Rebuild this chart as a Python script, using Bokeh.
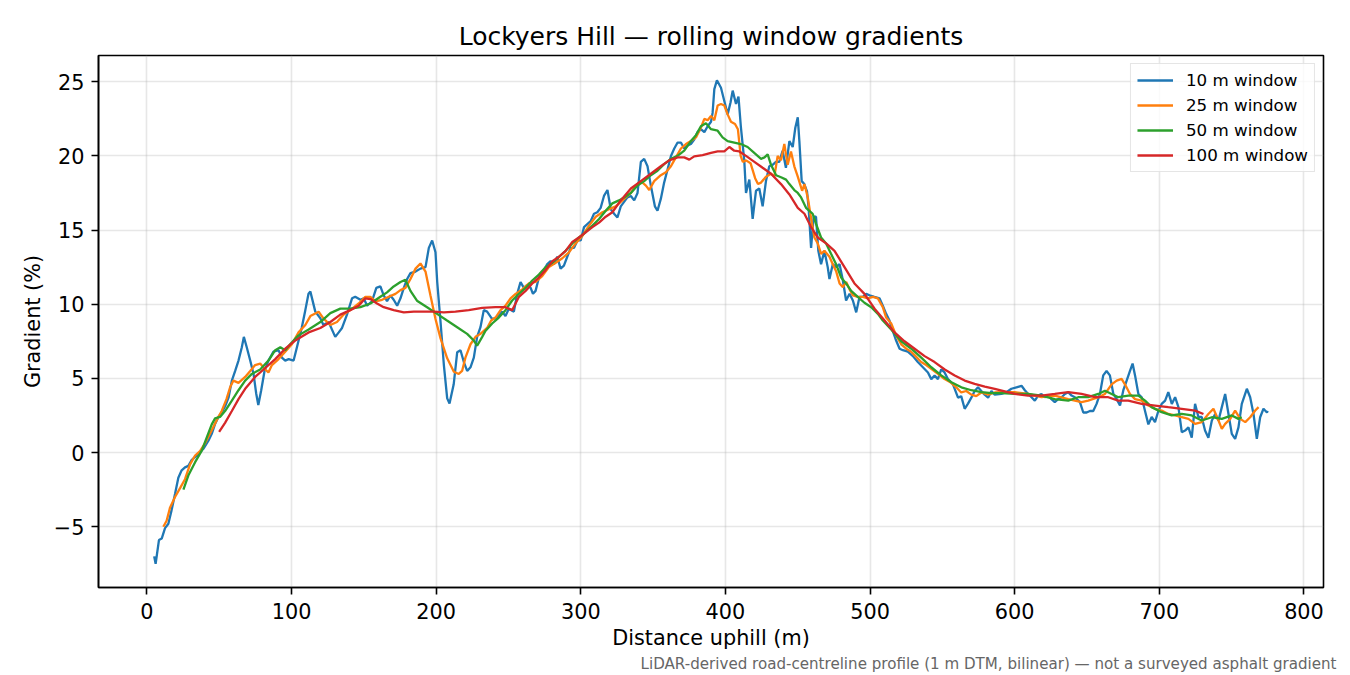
from bokeh.plotting import figure
from bokeh.models import Range1d, FixedTicker, CustomJSTickFormatter, Title
from bokeh.embed import file_html
from bokeh.resources import INLINE

FONT = "DejaVu Sans"

# 10 m window
dist_10 = [5, 6, 8.3, 10.2, 12.5, 14.8, 17, 19.4, 21.7, 24, 26.3, 28.6, 31, 35.6, 39, 42.5, 44.8, 47,
           49.4, 51.7, 54, 56.4, 58.7, 61, 63.3, 65.6, 67, 69, 71.4, 73.7, 75.5, 77, 79, 81.3, 84,
           87.5, 91, 93.3, 95.6, 98, 101.4, 103.7, 107, 109.5, 111.7, 113, 116.4, 119.9, 122, 125.6,
           130.2, 132.6, 134.9, 138.3, 141.8, 144, 147.6, 149.9, 152.2, 155.6, 158.6, 161.4, 163.7,
           166, 168.3, 170.6, 173, 175.3, 177.6, 179.9, 182.2, 185.7, 189.1, 192.6, 194.9, 197.2,
           199.5, 200.7, 203, 205.3, 207.6, 209.2, 212.1, 214.5, 216.8, 219.1, 221.4, 223.7, 226,
           228.3, 230.6, 232.9, 235.2, 238.7, 242.2, 245.6, 247.9, 250.2, 253.7, 256, 258.3, 260.6,
           263, 265.3, 266.9, 268.7, 271, 274.5, 276.8, 279.1, 281.4, 283.7, 286, 288.3, 290.6, 293,
           295.3, 297.6, 299.9, 302.2, 304.5, 306.8, 309.1, 311.4, 313.7, 316, 318.4, 320.7, 323,
           325.3, 327.6, 329.9, 332.2, 334.6, 336.9, 339.2, 341.5, 343.8, 346.1, 348.4, 351.2, 353,
           355.3, 357.6, 360, 362.3, 364.6, 366.9, 369.2, 371.5, 373.8, 376.1, 378.4, 380.7, 383,
           385.4, 387.7, 390, 391.1, 392.3, 394.1, 396.9, 399.2, 401.5, 403.5, 405, 407.3, 409,
           410.7, 413, 414.2, 416.5, 418.8, 421.1, 423.4, 425.7, 428, 430.3, 432.6, 434.9, 437.2,
           439.5, 441.8, 444.2, 446.5, 448.3, 450, 451.1, 452.7, 454.5, 456.4, 457.5, 459.2, 461,
           462.6, 464.2, 466.1, 468.4, 470.7, 471.9, 474.2, 476.6, 478.9, 481.2, 483.4, 485.8, 488.1,
           490.4, 492.7, 495, 497.3, 499.6, 503, 506.5, 508.8, 511.1, 513.4, 515.7, 518, 520.4,
           522.7, 526.1, 529.6, 533, 536.5, 540, 542.3, 544.6, 546.9, 549.2, 551.5, 553.8, 557.3,
           560.8, 563, 565.4, 567.7, 570, 572.3, 574.6, 576.9, 579.2, 581.6, 583.9, 586.2, 590.8,
           594.3, 597.7, 601.2, 604.7, 607, 609.3, 611.6, 613.9, 616.2, 618.5, 620.8, 623.1, 625.4,
           627.7, 630, 632.4, 634.7, 637, 639.3, 641.6, 645.1, 647.4, 649.7, 652, 654.3, 656.6,
           658.9, 661.2, 663.5, 665.8, 668.2, 670.5, 672.8, 675.1, 677.4, 679.7, 681.5, 683.2, 685.5,
           687.8, 690.1, 692.4, 694.7, 697, 699.3, 701.6, 704, 706.2, 708.6, 710.9, 713.2, 715.5,
           717.8, 720.1, 722.4, 724.7, 727, 729.3, 731.6, 733.9, 736.3, 738.6, 740.9, 743.2, 745.5,
           747.8, 750.1, 752.4, 754.7, 757, 760.5, 762.8, 765.1, 767.4, 769.7, 772, 774.4, 775]
grad_10 = [-7.0, -7.5, -5.9, -5.8, -5.1, -4.8, -3.9, -2.8, -1.7, -1.2, -1.0, -0.9, -0.5, -0.1, 0.25,
           0.8, 1.26, 1.9, 2.4, 2.7, 3.1, 3.7, 4.85, 5.5, 6.2, 7.1, 7.8, 7.1, 6.2, 5.3, 4.0, 3.2, 4.2,
           5.5, 6.2, 6.8, 6.9, 6.4, 6.2, 6.3, 6.2, 7.1, 8.4, 9.6, 10.7, 10.85, 9.5, 9.05, 8.6, 8.8,
           7.8, 8.1, 8.4, 9.3, 10.4, 10.5, 10.3, 10.4, 9.9, 10.2, 11.1, 11.2, 10.6, 10.2, 10.6, 10.3,
           9.9, 10.4, 11.1, 11.7, 12.1, 12.2, 12.4, 12.5, 13.8, 14.3, 13.5, 11.5, 8.8, 5.9, 3.65,
           3.3, 4.6, 6.76, 6.9, 6.1, 5.5, 5.75, 6.4, 7.8, 8.45, 9.6, 9.5, 9.0, 9.1, 9.5, 9.2, 9.7,
           9.5, 10.7, 11.5, 11.1, 11.3, 11.1, 10.7, 10.9, 11.8, 12.3, 12.7, 12.9, 12.7, 13.2, 12.4,
           12.6, 13.2, 13.8, 13.8, 14.3, 14.3, 15.2, 15.4, 15.6, 16.1, 16.2, 16.5, 17.3, 17.7, 16.4,
           16.1, 15.85, 16.6, 16.9, 17.2, 17.3, 17.0, 17.5, 19.6, 19.8, 19.3, 18.0, 16.6, 16.3, 17.1,
           18.2, 19.1, 20.0, 20.5, 20.9, 20.9, 20.5, 20.7, 20.8, 21.1, 21.6, 21.8, 21.6, 22.0, 22.3,
           22.9, 24.5, 25.1, 24.6, 23.7, 22.8, 23.6, 24.4, 23.5, 24.0, 21.9, 19.7, 17.5, 18.4, 15.75,
           17.65, 17.8, 16.6, 18.3, 19.3, 19.4, 19.6, 19.6, 20.35, 19.2, 21.0, 20.6, 21.9, 22.6,
           21.0, 18.3, 18.1, 17.6, 16.5, 13.8, 15.9, 15.9, 13.6, 12.7, 13.6, 12.5, 11.7, 12.7, 12.5,
           12.7, 11.6, 10.25, 10.7, 10.25, 9.45, 10.5, 10.5, 10.7, 10.6, 10.5, 10.4, 9.9, 9.35, 8.9,
           8.2, 7.55, 7.0, 6.9, 6.8, 6.5, 6.1, 5.75, 5.4, 4.95, 5.2, 4.95, 5.6, 5.4, 4.95, 4.6, 3.7,
           3.8, 2.95, 3.3, 3.7, 4.15, 4.4, 4.15, 3.9, 3.7, 4.15, 3.9, 3.95, 4.07, 4.3, 4.4, 4.5, 4.2,
           3.95, 3.73, 3.5, 3.84, 3.95, 3.73, 3.84, 3.6, 3.4, 3.6, 3.73, 3.95, 4.07, 3.84, 3.73, 3.4,
           2.7, 2.7, 2.8, 2.8, 3.28, 3.95, 5.2, 5.5, 5.2, 3.95, 3.6, 3.17, 4.2, 4.85, 5.5, 6.0, 5.2,
           3.95, 3.73, 2.8, 1.9, 2.4, 2.05, 2.8, 3.28, 3.5, 4.07, 3.28, 3.73, 3.06, 1.37, 1.48, 1.7,
           1.0, 3.28, 2.4, 2.4, 1.48, 1.0, 2.16, 2.6, 2.16, 3.06, 3.95, 2.6, 1.26, 0.92, 1.7, 3.28,
           4.3, 3.73, 2.6, 0.92, 2.38, 2.95, 2.7, 2.8]

# 25 m window
dist_25 = [11.3, 13.6, 16, 19.4, 22.9, 26.3, 29.8, 33.3, 36.7, 40, 44.8, 48.3, 51.7, 55, 57.5, 59.8,
           63.3, 67.9, 71.4, 74.8, 78.3, 81.8, 84, 86.4, 91, 95.6, 100.2, 104.8, 109.5, 113, 118.7,
           122, 126.8, 131.4, 136, 140.6, 146.4, 151, 154.5, 158, 162.6, 167.2, 171.8, 175.3, 178.7,
           182.2, 185.7, 189.1, 192.6, 196, 199.5, 203, 207.6, 212.2, 215.6, 217.9, 220.2, 223.7,
           227.2, 230.6, 235.2, 238, 241, 244.5, 247.9, 251.4, 254.9, 259.5, 264.1, 268.7, 273.3,
           277.9, 282.6, 287.2, 291.8, 296.4, 301, 305.7, 310.3, 314.9, 319.5, 324.1, 327.6, 329.9,
           334.6, 338, 341.5, 345, 347.3, 350.7, 355.3, 358.8, 362.3, 365.7, 369.2, 372.7, 376.1,
           379.6, 383, 385.4, 387.7, 390, 392.3, 394.6, 396.9, 399.2, 401.5, 403.8, 406.6, 408.6,
           410.5, 412, 414.2, 417.4, 420.5, 422.5, 424.6, 428, 431.5, 433.8, 436.1, 438.4, 440.7,
           443, 445.3, 447.6, 450, 453, 454.6, 456.9, 459.2, 461.5, 463.8, 466.1, 468.4, 471.9,
           474.2, 476.6, 478.9, 481.2, 483.5, 485.8, 488.1, 491.5, 495, 498.5, 502, 505.3, 508.8,
           511.1, 514.6, 518, 521.5, 525, 528.4, 531.9, 535.3, 538.8, 542.3, 546.9, 551.5, 556.1,
           559.6, 563, 566.5, 570, 573.4, 576.9, 581.6, 586.2, 590.8, 600, 609.3, 618.5, 627.7, 637,
           646.2, 650.8, 657.8, 662.4, 667, 670.5, 673.9, 676.2, 679.7, 683.2, 687.8, 692.4, 697,
           701.6, 706.2, 710.9, 715.5, 720.1, 724.7, 729.3, 733.9, 737.4, 740.9, 743.2, 745.5, 749,
           752.4, 755.9, 759.4, 762.8, 766.3, 768.6]
grad_25 = [-5.0, -4.6, -3.7, -3.0, -2.4, -1.8, -0.8, -0.2, 0.1, 0.6, 1.5, 2.2, 2.8, 3.6, 4.4, 4.85,
           4.7, 5.1, 5.5, 5.9, 6.0, 5.6, 5.4, 5.9, 6.3, 6.8, 7.3, 8.1, 8.6, 9.2, 9.5, 9.05, 8.6, 8.8,
           9.3, 9.6, 10.05, 10.5, 10.5, 10.2, 10.3, 10.5, 10.7, 10.95, 11.1, 11.7, 12.4, 12.75, 12.2,
           10.6, 9.0, 7.7, 6.35, 5.45, 5.3, 5.5, 6.4, 7.3, 7.8, 8.0, 8.4, 8.9, 9.1, 9.6, 9.9, 10.4,
           10.7, 11.0, 11.4, 11.5, 11.9, 12.5, 12.8, 13.1, 13.5, 14.1, 14.6, 15.3, 15.9, 16.2, 16.4,
           16.6, 16.9, 17.1, 17.5, 18.0, 18.3, 18.0, 17.7, 18.3, 18.7, 18.9, 19.3, 19.9, 20.5, 20.8,
           21.0, 21.25, 21.9, 22.5, 22.4, 22.7, 22.4, 23.4, 23.5, 23.4, 22.8, 22.3, 22.15, 21.8, 20.0,
           19.6, 19.7, 19.5, 18.5, 18.1, 18.2, 18.6, 18.8, 18.6, 20.0, 19.7, 20.8, 19.4, 20.3, 19.3,
           18.6, 17.65, 18.1, 17.2, 15.8, 14.5, 14.1, 13.4, 13.6, 13.2, 12.7, 12.2, 11.4, 11.15,
           11.5, 11.0, 10.6, 10.5, 10.5, 10.4, 10.5, 10.4, 9.8, 9.1, 8.7, 7.9, 7.3, 7.0, 6.8, 6.45,
           6.1, 5.9, 5.65, 5.3, 4.95, 4.7, 4.4, 4.05, 4.15, 3.9, 3.8, 4.05, 3.9, 4.05, 4.07, 4.07,
           3.95, 3.73, 3.84, 3.6, 3.4, 3.5, 3.73, 3.95, 4.6, 4.85, 4.97, 4.6, 3.95, 3.6, 3.5, 3.17,
           2.95, 2.83, 2.6, 2.5, 2.38, 2.27, 1.93, 2.05, 2.6, 2.95, 2.16, 1.6, 1.93, 2.27, 2.83,
           2.27, 2.05, 2.38, 2.83, 3.06]

# 50 m window
dist_50 = [25.2, 28.6, 33.3, 37.9, 41.3, 44.8, 47.1, 50.5, 54, 58.7, 63.3, 67.9, 72.5, 78.3, 84,
           88.7, 92.2, 95.6, 99, 104.8, 111.8, 119.9, 126.8, 133.7, 140.6, 147.6, 154.5, 161.4, 166,
           170.6, 175.3, 178.7, 182.2, 186.7, 193.7, 200.6, 207.5, 214.5, 221.4, 226, 228.3, 231.8,
           234, 238.7, 243.3, 247.9, 252.5, 257.2, 261.8, 266.4, 271, 275.6, 280.3, 284.9, 289.5,
           294.1, 298.7, 303.3, 308, 312.6, 317.2, 321.8, 326.4, 329.9, 334.6, 339.2, 343.8, 348.4,
           353, 357.6, 362.3, 366.9, 371.5, 376.1, 379.6, 383, 386.5, 390, 394.6, 398, 401.5, 406.1,
           410.7, 415.3, 419.9, 424.6, 427, 429.2, 431.5, 435, 438.4, 441.9, 444.2, 447.6, 450,
           452.3, 455.7, 458, 460.3, 462.7, 466.1, 469.6, 473, 476.5, 480, 483.4, 486.9, 491.5,
           496.1, 500.8, 505.4, 508.8, 514.6, 521.5, 528.5, 535.4, 542.3, 549.2, 556.2, 563.1, 570,
           577, 583.9, 590.8, 600, 609.3, 618.5, 627.7, 637, 643.9, 650.8, 657.8, 662.4, 667, 671.6,
           678.5, 685.5, 690.1, 694.7, 701.6, 708.6, 715.5, 722.4, 729.3, 736.3, 743.2, 750.1,
           754.7, 757]
grad_50 = [-2.5, -1.55, -0.65, 0.13, 1.0, 1.9, 2.3, 2.4, 2.8, 3.5, 4.2, 4.85, 5.3, 5.6, 6.2, 6.9,
           7.1, 6.9, 7.3, 7.9, 8.3, 8.8, 9.4, 9.7, 9.7, 9.8, 10.05, 10.5, 10.8, 11.2, 11.5, 11.65,
           10.9, 10.24, 9.8, 9.35, 8.9, 8.45, 8.0, 7.55, 7.2, 7.8, 8.2, 8.7, 9.1, 9.6, 10.25, 10.7,
           11.1, 11.6, 12.0, 12.5, 12.8, 13.2, 13.6, 14.1, 14.5, 14.85, 15.3, 15.75, 16.3, 16.8,
           17.0, 17.2, 17.5, 18.0, 18.3, 18.7, 19.0, 19.45, 19.8, 20.0, 20.35, 21.0, 21.4, 22.0,
           22.2, 21.8, 21.7, 21.25, 21.0, 20.9, 20.8, 20.6, 20.2, 19.8, 19.9, 20.1, 19.4, 18.7,
           18.56, 18.4, 18.1, 17.7, 17.5, 17.2, 16.5, 16.3, 16.1, 15.4, 14.5, 14.1, 13.4, 12.7,
           11.8, 11.4, 10.9, 10.5, 10.1, 9.8, 9.35, 8.9, 8.3, 7.5, 7.0, 6.4, 5.75, 5.2, 4.74, 4.4,
           4.2, 4.07, 4.0, 4.0, 3.95, 3.95, 3.84, 3.6, 3.5, 3.73, 3.73, 3.95, 4.17, 3.95, 3.73,
           3.84, 3.84, 3.5, 3.06, 2.72, 2.5, 2.6, 2.5, 2.16, 2.38, 2.27, 2.5, 2.27, 2.38]

# 100 m window
dist_100 = [49.9, 54, 58.7, 63.3, 67.9, 74.8, 81.8, 88.7, 95.6, 102.5, 111.8, 119.9, 126.8, 133.7,
            140.6, 146.4, 151, 154.5, 159.1, 163.7, 170.6, 177.6, 184.5, 191.4, 198.4, 205.3, 213.3,
            222.5, 231.8, 241, 247.9, 252.5, 257.2, 261.8, 266.4, 271, 275.6, 280.3, 284.9, 289.5,
            294.1, 298.7, 303.3, 308, 312.6, 317.2, 321.8, 327.6, 334.6, 341.5, 348.4, 355.3, 361.1,
            366.9, 371.5, 375, 378.4, 384.2, 390, 394.6, 399.2, 402.7, 406.1, 409.6, 414.2, 420,
            425.7, 431.5, 438.4, 444.2, 450, 454.6, 459.2, 463.8, 469.6, 475.4, 482.3, 489.2, 496.1,
            503.1, 510, 516.9, 523.8, 530.8, 537.7, 544.6, 551.6, 558.5, 565.4, 572.3, 579.3, 586.2,
            593.1, 600, 609.3, 618.5, 627.7, 637, 646.2, 655.5, 664.7, 671.6, 678.5, 687.8, 697,
            706.2, 715.5, 724.7, 730.5]
grad_100 = [1.4, 2.0, 2.8, 3.6, 4.3, 5.1, 5.7, 6.3, 7.0, 7.55, 8.1, 8.4, 8.8, 9.3, 9.6, 9.9, 10.4,
            10.35, 10.05, 9.8, 9.6, 9.45, 9.5, 9.5, 9.5, 9.45, 9.5, 9.6, 9.75, 9.8, 9.8, 9.6, 10.5,
            10.9, 11.4, 11.8, 12.3, 12.9, 13.2, 13.6, 14.2, 14.5, 14.85, 15.2, 15.5, 15.9, 16.2,
            17.0, 17.8, 18.3, 18.8, 19.3, 19.7, 19.9, 19.9, 19.75, 19.97, 20.06, 20.2, 20.3, 20.3,
            20.6, 20.35, 20.3, 20.0, 19.6, 19.2, 18.8, 18.1, 17.4, 16.5, 16.1, 15.2, 14.5, 14.1,
            13.6, 12.5, 11.4, 10.7, 9.7, 8.9, 8.1, 7.5, 7.0, 6.5, 6.1, 5.6, 5.2, 4.85, 4.63, 4.45,
            4.3, 4.13, 3.95, 3.84, 3.84, 3.95, 4.07, 3.95, 3.73, 3.73, 3.5, 3.5, 3.28, 3.17, 3.06,
            2.95, 2.83, 2.6]

series = [
    (dist_10, grad_10, "#1f77b4", "10 m window"),
    (dist_25, grad_25, "#ff7f0e", "25 m window"),
    (dist_50, grad_50, "#2ca02c", "50 m window"),
    (dist_100, grad_100, "#d62728", "100 m window"),
]

p = figure(width=1340, height=674, output_backend="svg", toolbar_location=None,
           x_range=Range1d(-33.5, 813.5), y_range=Range1d(-9.1, 26.77),
           min_border_left=98, min_border_right=17, min_border_top=55, min_border_bottom=87,
           title="Lockyers Hill \u2014 rolling window gradients")

for xs, ys, col, lab in series:
    p.line(xs, ys, line_color=col, line_width=2.3, legend_label=lab)

# title
p.title.align = "center"
p.title.text_font = FONT
p.title.text_font_size = "25px"
p.title.text_font_style = "normal"
p.title.text_color = "black"
p.title.standoff = 9

# axes
p.xaxis.ticker = FixedTicker(ticks=[0, 100, 200, 300, 400, 500, 600, 700, 800])
p.yaxis.ticker = FixedTicker(ticks=[-5, 0, 5, 10, 15, 20, 25])
p.yaxis.formatter = CustomJSTickFormatter(code="return tick < 0 ? '\u2212' + (-tick) : String(tick);")
p.xaxis.axis_label = "Distance uphill (m)"
p.yaxis.axis_label = "Gradient (%)"
for ax in (p.xaxis, p.yaxis):
    ax.axis_label_text_font = FONT
    ax.axis_label_text_font_size = "20.8px"
    ax.axis_label_text_font_style = "normal"
    ax.axis_label_text_color = "black"
    ax.axis_label_standoff = 6
    ax.major_label_text_font = FONT
    ax.major_label_text_font_size = "20.8px"
    ax.major_label_text_color = "black"
    ax.major_label_standoff = 7
    ax.major_tick_out = 7
    ax.major_tick_in = 0
    ax.major_tick_line_width = 1.6
    ax.minor_tick_out = 0
    ax.minor_tick_in = 0
    ax.axis_line_width = 1.6
    ax.axis_line_color = "black"
p.xaxis.major_label_standoff = 8
p.xaxis.axis_label_standoff = 4

p.outline_line_color = "black"
p.outline_line_width = 1.6
p.outline_line_alpha = 1.0

p.grid.grid_line_color = "#b0b0b0"
p.grid.grid_line_alpha = 0.3
p.grid.grid_line_width = 1.6

# legend
lg = p.legend[0]
lg.location = "top_right"
lg.margin = 8
lg.padding = 6
lg.spacing = 5
lg.glyph_width = 36
lg.glyph_height = 20
lg.label_standoff = 13
lg.label_text_font = FONT
lg.label_text_font_size = "16.7px"
lg.label_text_color = "black"
lg.label_height = 20
lg.border_line_color = "#cccccc"
lg.border_line_width = 1.6
lg.background_fill_alpha = 0.8

# footnote below the x axis, right aligned past the frame edge
note = Title(text="LiDAR-derived road-centreline profile (1 m DTM, bilinear) \u2014 not a surveyed asphalt gradient",
             align="right", offset=-13, standoff=0, text_font=FONT, text_font_size="15.1px",
             text_font_style="normal", text_color="#666666")
p.add_layout(note, "below")

open("out.html", "w").write(file_html(p, INLINE))
